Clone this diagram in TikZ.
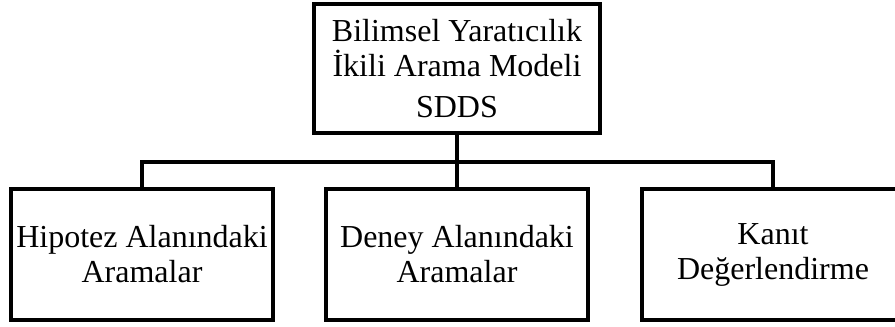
\documentclass[tikz,border=0pt]{standalone}
\usepackage{fontspec}
\setmainfont{Liberation Serif}
\begin{document}
\begin{tikzpicture}[x=0.75pt,y=-0.75pt]
\tikzset{
  box/.style={draw,line width=2.3pt,inner sep=0pt,align=center,
    font=\fontsize{24pt}{26.25pt}\selectfont},
  topbox/.style={box,minimum width=214.5pt,minimum height=96.75pt},
  lowbox/.style={box,minimum width=196.5pt,minimum height=98.25pt},
  conn/.style={line width=2.3pt}
}
\useasboundingbox (0,0) rectangle (895,327);
\node[topbox] (top) at (457,68.5) {Bilimsel Yaratıcılık\\İkili Arama Modeli\\[4.5pt]SDDS};
\node[lowbox] (b1) at (142,254.5) {Hipotez Alanındaki\\Aramalar};
\node[lowbox] (b2) at (457,254.5) {Deney Alanındaki\\Aramalar};
\node[lowbox] (b3) at (773,254.5) {Kanıt\\Değerlendirme};
\coordinate (j) at (457,162);
\draw[conn] (top.south) -- (j);
\draw[conn] (b1.north) |- (j) -| (b3.north);
\draw[conn] (j) -- (b2.north);
\end{tikzpicture}
\end{document}
